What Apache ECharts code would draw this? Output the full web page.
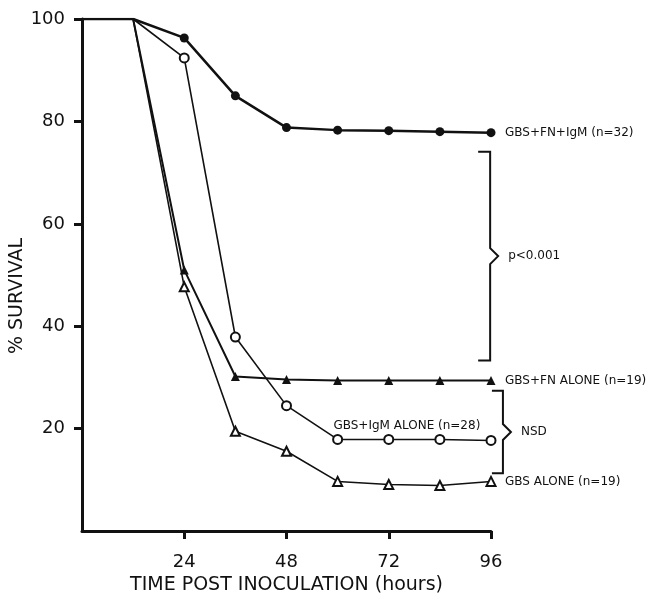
<!DOCTYPE html>
<html>
<head>
<meta charset="utf-8">
<script src="https://cdn.jsdelivr.net/npm/echarts@6/dist/echarts.min.js"></script>
<style>
html,body{margin:0;padding:0;background:#fff;}
#c{width:652px;height:600px;}
</style>
</head>
<body>
<div id="c"></div>
<script>
// ---- data ----
const hours = [0, 12, 24, 36, 48, 60, 72, 84, 96];
const fnIgm    = [100, 100, 96.3, 85.0, 78.8, 78.3, 78.2, 78.0, 77.8];
const igmAlone = [100, 100, 92.4, 37.9, 24.5, 17.9, 17.9, 17.9, 17.7];
const fnAlone  = [100, 100, 51.0, 30.2, 29.6, 29.4, 29.4, 29.4, 29.4];
const gbsAlone = [100, 100, 47.7, 19.5, 15.6, 9.7, 9.1, 8.9, 9.7];
const xTicks = [24, 48, 72, 96];
const yTicks = [20, 40, 60, 80, 100];
const seriesNames = ['GBS+FN+IgM (n=32)', 'GBS+IgM ALONE (n=28)', 'GBS+FN ALONE (n=19)', 'GBS ALONE (n=19)'];
const xTitle = 'TIME POST INOCULATION (hours)';
const yTitle = '% SURVIVAL';
const pBracket = {x: 95.8, top: 74.1, bottom: 33.3, label: 'p<0.001'};
const nsdBracket = {x: 98.8, top: 27.4, bottom: 11.3, label: 'NSD'};

const FONT = 'DejaVu Sans';
function pts(vals) {
  return vals.map((v, i) => {
    const item = {value: [hours[i], v]};
    if (hours[i] < 24) item.symbol = 'none';
    return item;
  });
}
const chart = echarts.init(document.getElementById('c'), null, {renderer: 'canvas'});
const lbl = {show: true, distance: 14, fontSize: 12, color: '#111', fontFamily: FONT};
chart.setOption({
  animation: false,
  backgroundColor: '#fff',
  textStyle: {fontFamily: FONT, color: '#111'},
  grid: {left: 82, right: 161, top: 19, bottom: 67},
  xAxis: {
    type: 'value', min: 0, max: 96, interval: 24,
    name: xTitle, nameLocation: 'middle', nameGap: 41,
    nameTextStyle: {fontSize: 19, color: '#111', fontFamily: FONT},
    axisLine: {lineStyle: {color: '#111', width: 3}},
    axisTick: {show: true, length: 8, customValues: xTicks, lineStyle: {color: '#111', width: 3}},
    axisLabel: {customValues: xTicks, fontSize: 18, color: '#111', margin: 22},
    splitLine: {show: false}
  },
  yAxis: {
    type: 'value', min: 0, max: 100, interval: 20,
    axisLine: {show: true, lineStyle: {color: '#111', width: 3}},
    axisTick: {show: true, length: 8, customValues: yTicks, lineStyle: {color: '#111', width: 3}},
    axisLabel: {customValues: yTicks, fontSize: 18, color: '#111', margin: 17},
    splitLine: {show: false}
  },
  series: [
    {name: seriesNames[0], type: 'line', data: pts(fnIgm), symbol: 'circle', symbolSize: 9,
     lineStyle: {color: '#111', width: 2.5}, itemStyle: {color: '#111'},
     endLabel: Object.assign({formatter: seriesNames[0]}, lbl), z: 5},
    {name: seriesNames[1], type: 'line', data: pts(igmAlone), symbol: 'emptyCircle', symbolSize: 9,
     lineStyle: {color: '#111', width: 1.6}, itemStyle: {color: '#111', borderWidth: 1.5}, z: 4},
    {name: seriesNames[2], type: 'line', data: pts(fnAlone), symbol: 'triangle', symbolSize: 9,
     lineStyle: {color: '#111', width: 2}, itemStyle: {color: '#111'},
     endLabel: Object.assign({formatter: seriesNames[2]}, lbl), z: 3},
    {name: seriesNames[3], type: 'line', data: pts(gbsAlone), symbol: 'emptyTriangle', symbolSize: 9,
     lineStyle: {color: '#111', width: 1.6}, itemStyle: {color: '#111', borderWidth: 1.5},
     endLabel: Object.assign({formatter: seriesNames[3]}, lbl), z: 3}
  ]
});

function px(x, y) { return chart.convertToPixel({gridIndex: 0}, [x, y]); }
function bracket(b, stub, tip) {
  const t = px(b.x, b.top), bt = px(b.x, b.bottom);
  const mid = (t[1] + bt[1]) / 2;
  const x = t[0];
  return [
    {type: 'polyline', shape: {points: [[x - stub, t[1]], [x, t[1]], [x, mid - tip], [x + tip, mid], [x, mid + tip], [x, bt[1]], [x - stub, bt[1]]]},
     style: {stroke: '#111', lineWidth: 2, fill: null}},
    {type: 'text', x: x + tip + 10, y: mid, style: {text: b.label, font: '12px "' + FONT + '"', fill: '#111', verticalAlign: 'middle', textAlign: 'left'}}
  ];
}
const lastIgm = px(84, igmAlone[7]);
const g = [].concat(
  bracket(pBracket, 12, 8),
  bracket(nsdBracket, 11, 8),
  [
    {type: 'text', x: lastIgm[0] - 33, y: lastIgm[1] - 14,
     style: {text: seriesNames[1], font: '12px "' + FONT + '"', fill: '#111', textAlign: 'center', verticalAlign: 'middle'}},
    {type: 'text', x: 17, y: 296, rotation: Math.PI / 2,
     style: {text: yTitle, font: '19px "' + FONT + '"', fill: '#111', textAlign: 'center', verticalAlign: 'middle'}}
  ]
);
chart.setOption({graphic: g});
</script>
</body>
</html>
